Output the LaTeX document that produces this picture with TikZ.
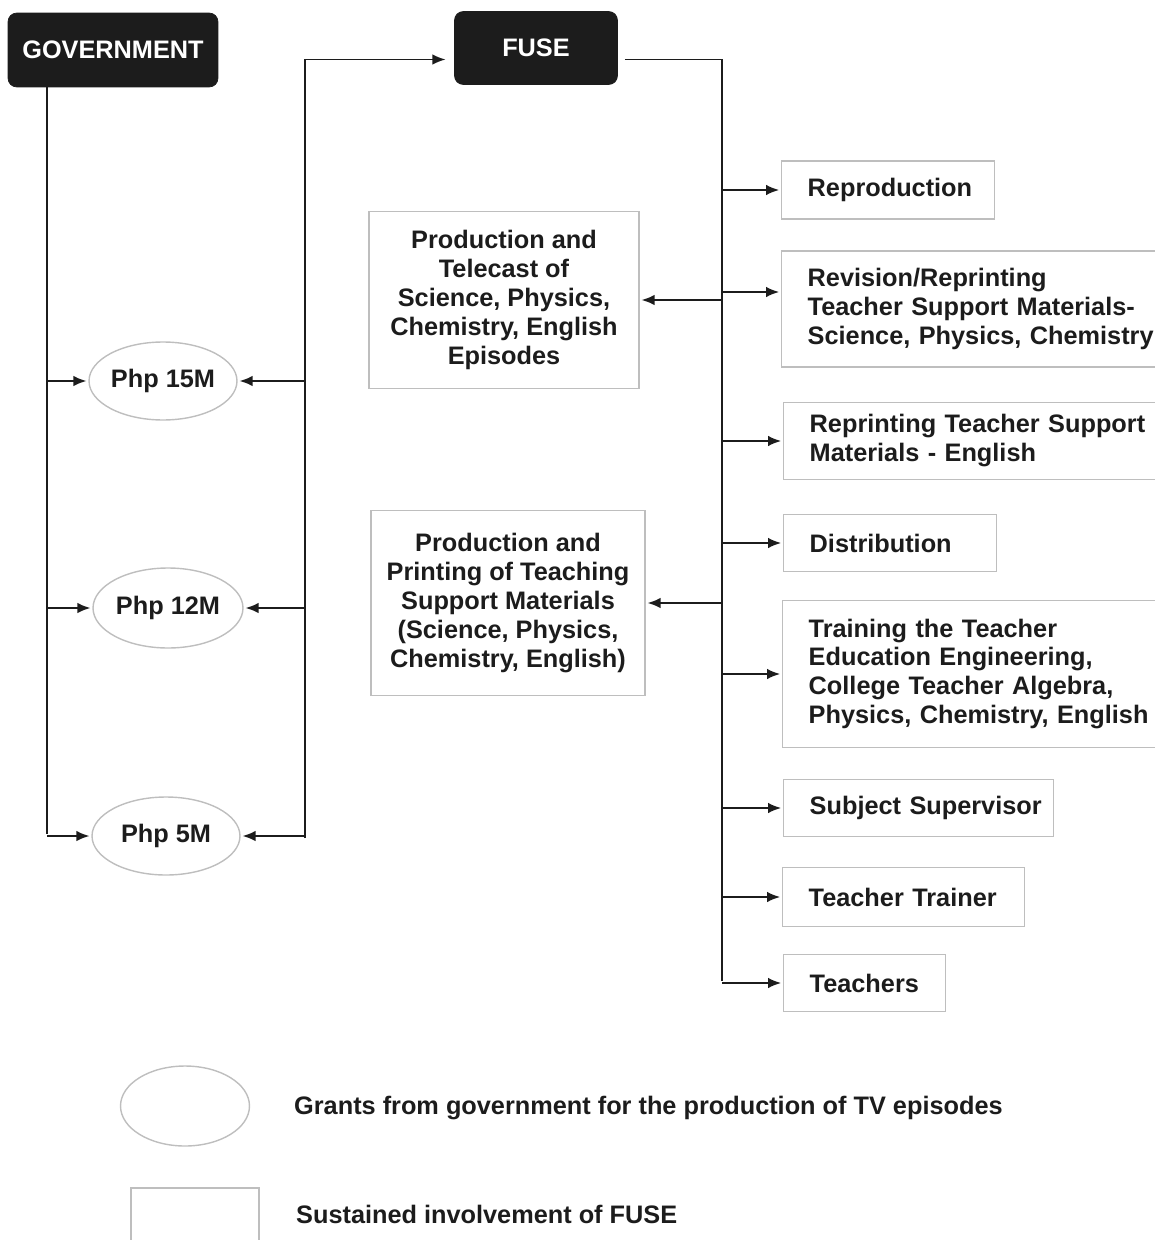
\documentclass[tikz,border=0pt]{standalone}
\usepackage{fontspec}
\setmainfont{Liberation Sans}
\usetikzlibrary{arrows.meta,shapes.geometric}

\definecolor{boxgray}{RGB}{190,190,190}
\definecolor{ink}{RGB}{28,28,28}

\begin{document}
\begin{tikzpicture}[x=0.02cm,y=-0.02cm,>={Latex[length=7.5pt,width=6pt]},shorten >=1pt,
    every node/.style={font=\bfseries\fontsize{14.4}{16.5}\selectfont,text=ink},
    head/.style={draw=ink,fill=ink,rounded corners=5pt,text=white,minimum width=4.2cm,minimum height=1.48cm},
    grant/.style={ellipse,draw=boxgray,line width=0.8pt,inner sep=0pt,minimum width=2.96cm,minimum height=1.56cm},
    task/.style={draw=boxgray,line width=0.8pt,align=center},
    rbox/.style={draw=boxgray,line width=0.8pt,anchor=west,align=left,inner xsep=0.52cm,text width=#1},
    link/.style={draw=ink,line width=1.1pt}]
    \useasboundingbox (0,0) rectangle (1155,1240);

    \node[head] (gov) at (113,50) {GOVERNMENT};
    \node[head,minimum width=3.26cm,minimum height=1.46cm] (fuse) at (536,48) {FUSE};

    \node[grant] (e15) at (163,381) {Php 15M};
    \node[grant,minimum width=3cm,minimum height=1.6cm] (e12) at (168,608) {Php 12M};
    \node[grant] (e5) at (166,836) {Php 5M};

    \node[task,minimum width=5.4cm,minimum height=3.54cm] (telecast) at (504,300)
        {Production and\\Telecast of\\Science, Physics,\\Chemistry, English\\Episodes};
    \node[task,minimum width=5.48cm,minimum height=3.7cm] (printing) at (508,603)
        {Production and\\Printing of Teaching\\Support Materials\\(Science, Physics,\\Chemistry, English)};

    \node[rbox=3.22cm,minimum height=1.16cm] (repro) at (781,190) {Reproduction};
    \node[rbox=7.3cm,minimum height=2.32cm] (revision) at (781,309)
        {Revision/Reprinting\\Teacher Support Materials-\\Science, Physics, Chemistry};
    \node[rbox=7.3cm,minimum height=1.54cm] (reprint) at (783,441)
        {Reprinting Teacher Support\\Materials - English};
    \node[rbox=3.22cm,minimum height=1.14cm] (distrib) at (783,543) {Distribution};
    \node[rbox=7.3cm,minimum height=2.94cm] (training) at (782,674)
        {Training the Teacher\\Education Engineering,\\College Teacher Algebra,\\Physics, Chemistry, English};
    \node[rbox=4.36cm,minimum height=1.14cm] (subject) at (783,808) {\mbox{Subject Supervisor}};
    \node[rbox=3.8cm,minimum height=1.18cm] (trainer) at (782,897) {Teacher Trainer};
    \node[rbox=2.2cm,minimum height=1.14cm] (teachers) at (783,983) {Teachers};

    % legend
    \node[grant,minimum width=2.58cm,minimum height=1.6cm] (legell) at (185,1106) {};
    \node[anchor=west] (legelltxt) at (288,1108) {Grants from government for the production of TV episodes};
    \node[task,minimum width=2.56cm,minimum height=1.6cm] (legbox) at (195,1228) {};
    \node[anchor=west] (legboxtxt) at (290,1214) {Sustained involvement of FUSE};

    \coordinate (gtrunk) at (47,836);
    \coordinate (ltrunk) at (305,838);
    \coordinate (rtrunk) at (722,983);
    \coordinate (fin) at ([yshift=-0.23cm]fuse.west);
    \coordinate (fout) at ([yshift=-0.23cm]fuse.east);
    \coordinate (rvin) at ([yshift=0.34cm]revision.west);

    % government to the grants
    \draw[link] (gov.south -| gtrunk) -- (gtrunk);
    \draw[link,->] (gtrunk |- e15) -- (e15);
    \draw[link,->] (gtrunk |- e12) -- (e12);
    \draw[link,->] (gtrunk) -- (e5);

    % grants to fuse
    \draw[link,->,shorten >=0.17cm] (ltrunk) |- (fin);
    \draw[link,->] (ltrunk |- e15) -- (e15);
    \draw[link,->] (ltrunk |- e12) -- (e12);
    \draw[link,->] (ltrunk |- e5) -- (e5);

    % fuse to the activities
    \draw[link,shorten <=0.14cm] (fout) -| (rtrunk);
    \draw[link,->] (rtrunk |- telecast) -- (telecast);
    \draw[link,->] (rtrunk |- printing) -- (printing);
    \draw[link,->] (rtrunk |- repro) -- (repro);
    \draw[link,->] (rtrunk |- rvin) -- (rvin);
    \draw[link,->] (rtrunk |- reprint) -- (reprint);
    \draw[link,->] (rtrunk |- distrib) -- (distrib);
    \draw[link,->] (rtrunk |- training) -- (training);
    \draw[link,->] (rtrunk |- subject) -- (subject);
    \draw[link,->] (rtrunk |- trainer) -- (trainer);
    \draw[link,->] (rtrunk) -- (teachers);
\end{tikzpicture}
\end{document}
